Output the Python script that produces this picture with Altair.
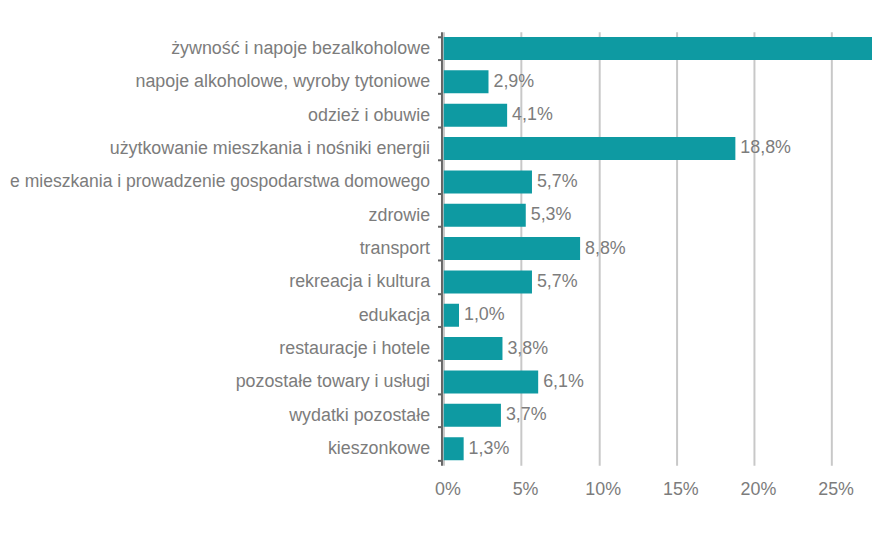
import altair as alt
import pandas as pd

categories = [
    "żywność i napoje bezalkoholowe",
    "napoje alkoholowe, wyroby tytoniowe",
    "odzież i obuwie",
    "użytkowanie mieszkania i nośniki energii",
    "e mieszkania i prowadzenie gospodarstwa domowego",
    "zdrowie",
    "transport",
    "rekreacja i kultura",
    "edukacja",
    "restauracje i hotele",
    "pozostałe towary i usługi",
    "wydatki pozostałe",
    "kieszonkowe",
]
values = [32.8, 2.9, 4.1, 18.8, 5.7, 5.3, 8.8, 5.7, 1.0, 3.8, 6.1, 3.7, 1.3]
tick_values = [0, 5, 10, 15, 20, 25]
labels = [f"{v:.1f}".replace(".", ",") + "%" for v in values]

df = pd.DataFrame({"kategoria": categories, "udzial": values, "etykieta": labels})

FONT = "Liberation Sans"
GRAY = "#7c7c7c"
TEAL = "#0e9aa2"
XMAX = 27.6
LONG = categories[4]

x_enc = alt.X(
    "udzial:Q",
    scale=alt.Scale(domain=[0, XMAX], nice=False, zero=True),
    axis=alt.Axis(
        title=None,
        values=tick_values,
        labelExpr="datum.value + '%'",
        labelFlush=False,
        domain=False,
        ticks=False,
        grid=True,
        gridColor="#c8c8c8",
        gridWidth=2,
        labelPadding=15,
        labelOffset=4,
    ),
)
y_enc = alt.Y(
    "kategoria:N",
    sort=categories,
    scale=alt.Scale(paddingInner=0.31, paddingOuter=0.155),
    axis=alt.Axis(
        title=None,
        tickBand="extent",
        domain=True,
        domainColor="#666666",
        domainWidth=2,
        ticks=True,
        tickColor="#666666",
        tickSize=4,
        tickWidth=2,
        grid=False,
        labelPadding=8,
        labelLimit=1000,
        offset=2,
        labelFontSize={
            "condition": {"test": f"datum.value == '{LONG}'", "value": 17.7},
            "value": 18,
        },
    ),
)

bars = alt.Chart(df).mark_bar(color=TEAL, clip=True).encode(x=x_enc, y=y_enc)
text = (
    alt.Chart(df)
    .transform_filter(f"datum.udzial < {XMAX - 2}")
    .mark_text(
        align="left", baseline="middle", dx=5,
        fontSize=18, color=GRAY, font=FONT,
    )
    .encode(x=alt.X("udzial:Q"), y=alt.Y("kategoria:N", sort=categories), text="etykieta:N")
)

chart = (
    alt.layer(bars, text)
    .properties(
        width=432,
        height=437,
        autosize=alt.AutoSizeParams(type="none"),
        padding={"left": 439, "top": 22, "right": 0, "bottom": 40},
    )
    .configure_view(stroke=None)
    .configure_axis(
        labelFont=FONT,
        labelFontSize=18,
        labelColor=GRAY,
    )
)

chart.save("out.html", embed_options={"renderer": "svg", "actions": False})
